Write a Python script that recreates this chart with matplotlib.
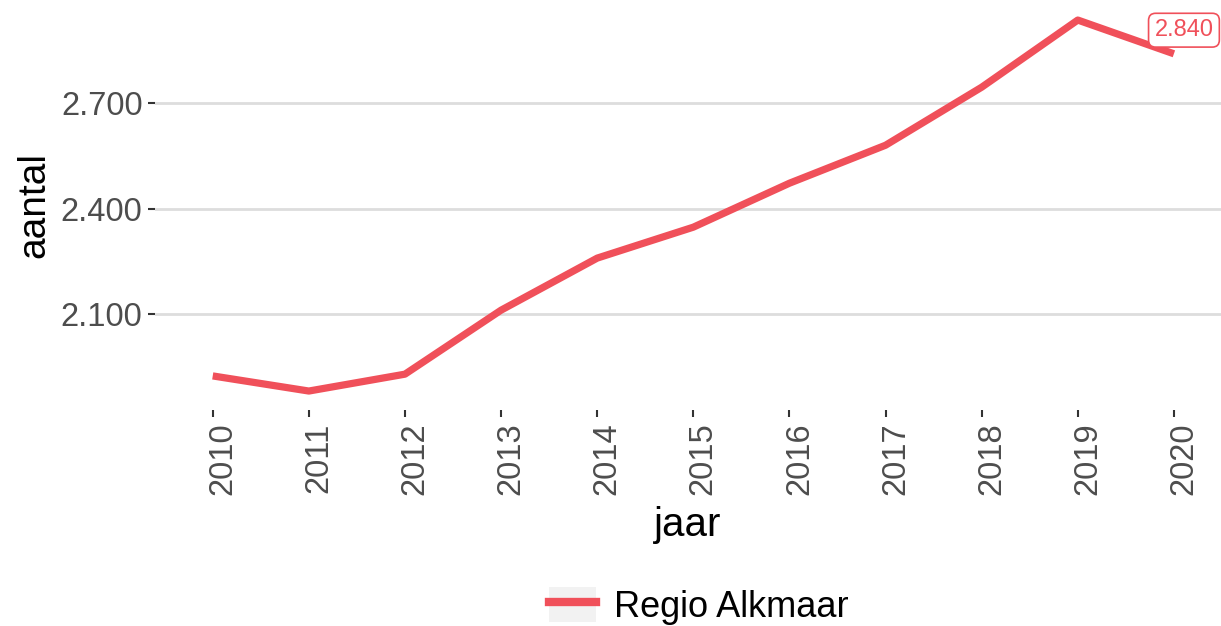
import matplotlib
matplotlib.use("Agg")
import matplotlib.pyplot as plt
import matplotlib.transforms as mtransforms
from matplotlib.patches import Patch
from matplotlib.lines import Line2D
from matplotlib.ticker import FuncFormatter

# data
jaren = [2010, 2011, 2012, 2013, 2014, 2015, 2016, 2017, 2018, 2019, 2020]
aantal = [1924, 1881, 1929, 2111, 2259, 2347, 2472, 2580, 2745, 2936, 2840]
y_ticks = [2100, 2400, 2700]
regio = "Regio Alkmaar"

rood = "#F0505A"
plt.rcParams['font.family'] = ['Liberation Sans', 'DejaVu Sans']

fig = plt.figure(figsize=(12.21, 6.26), dpi=100)
ax = fig.add_axes([0.127, 0.345, 0.873, 0.655])

ax.plot(jaren, aantal, color=rood, lw=5.2, solid_capstyle='butt')

# label for the last value
ax.annotate(f"{aantal[-1]:,}".replace(",", "."), xy=(jaren[-1], aantal[-1]),
            xytext=(-14, 17), textcoords='offset points', ha='left', va='center',
            fontsize=17, color=rood, annotation_clip=False,
            bbox=dict(boxstyle='round,pad=0.25,rounding_size=0.3', fc='white', ec=rood, lw=1.2))

ax.set_xlim(2009.40, 2020.49)
ax.set_ylim(1827, 2993)
ax.set_xticks(jaren)
ax.set_yticks(y_ticks)
ax.yaxis.set_major_formatter(FuncFormatter(lambda v, p: f"{int(v):,}".replace(",", ".")))
ax.grid(axis='y', color='#DDDDDD', lw=2)
ax.set_axisbelow(True)
for s in ax.spines.values():
    s.set_visible(False)

ax.tick_params(axis='both', length=5, width=1.5, color='#333333', labelcolor='#4D4D4D',
               labelsize=23.5, pad=4)
ax.tick_params(axis='x', rotation=90)
offset = mtransforms.ScaledTranslation(10 / 100, 0, fig.dpi_scale_trans)
for lbl in ax.get_xticklabels():
    lbl.set_transform(lbl.get_transform() + offset)

ax.set_xlabel("jaar", fontsize=29, labelpad=8)
ax.set_ylabel("aantal", fontsize=28, labelpad=6)

handle = (Patch(fc='#F2F2F2', ec='none'), Line2D([], [], color=rood, lw=6))
fig.legend([handle], [regio], loc='lower center', bbox_to_anchor=(0.572, -0.05),
           frameon=False, fontsize=26, handlelength=1.3, handleheight=1.15,
           handletextpad=0.5)

fig.savefig("out.png", dpi=100)
